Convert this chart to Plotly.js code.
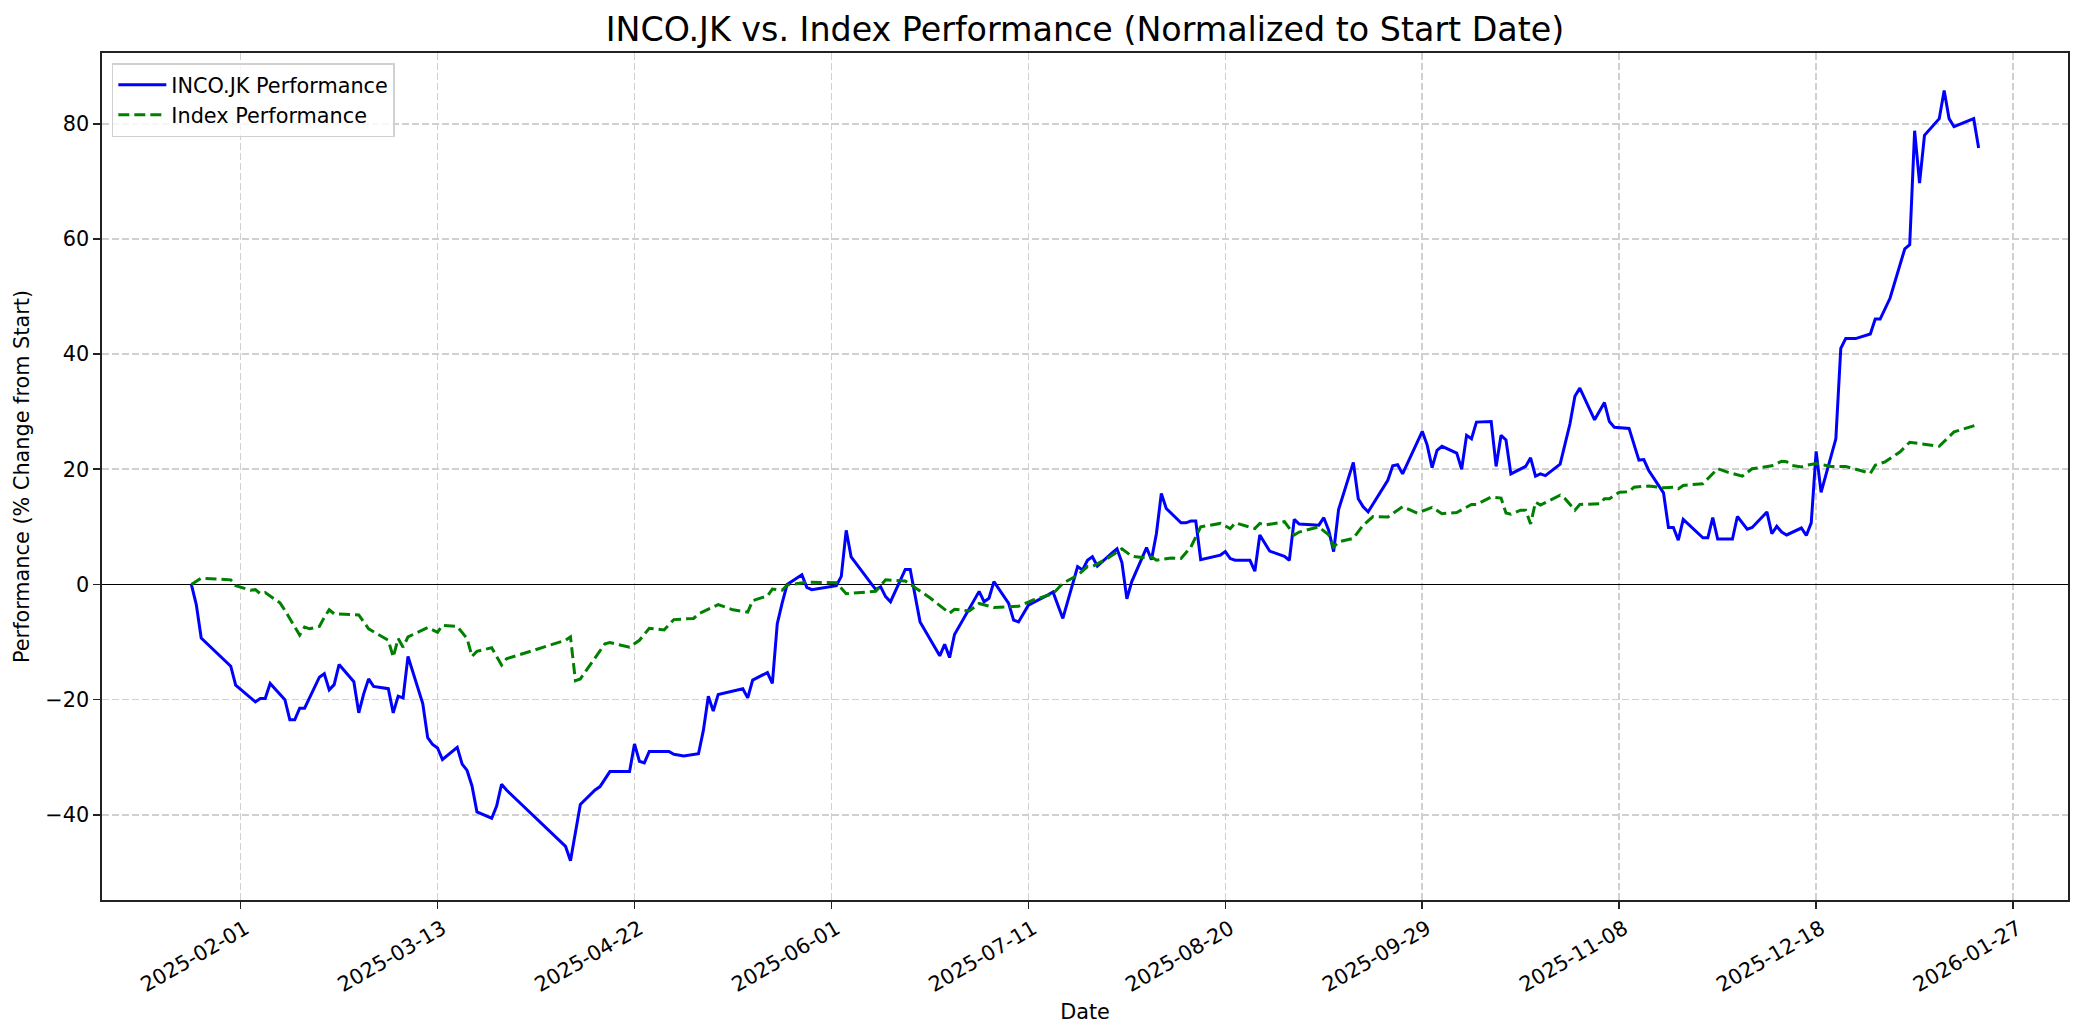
<!DOCTYPE html>
<html>
<head>
<meta charset="utf-8">
<script src="https://cdn.plot.ly/plotly-3.0.1.min.js"></script>
<style>html,body{margin:0;padding:0;background:#fff;}#chart{width:2084px;height:1035px;}</style>
</head>
<body>
<div id="chart"></div>
<script>
// INCO.JK performance (% change from start)
const stockDates = [
'2025-01-22','2025-01-23','2025-01-24','2025-01-30','2025-01-31','2025-02-03','2025-02-04','2025-02-05','2025-02-06','2025-02-07',
'2025-02-10','2025-02-11','2025-02-12','2025-02-13','2025-02-14','2025-02-17','2025-02-18','2025-02-19','2025-02-20','2025-02-21',
'2025-02-24','2025-02-25','2025-02-26','2025-02-27','2025-02-28','2025-03-03','2025-03-04','2025-03-05','2025-03-06','2025-03-07',
'2025-03-10','2025-03-11','2025-03-12','2025-03-13','2025-03-14','2025-03-17','2025-03-18','2025-03-19','2025-03-20','2025-03-21',
'2025-03-24','2025-03-25','2025-03-26','2025-03-27','2025-04-08','2025-04-09','2025-04-11','2025-04-14','2025-04-15','2025-04-17',
'2025-04-21','2025-04-22','2025-04-23','2025-04-24','2025-04-25','2025-04-29','2025-04-30','2025-05-02','2025-05-05','2025-05-06',
'2025-05-07','2025-05-08','2025-05-09','2025-05-14','2025-05-15','2025-05-16','2025-05-19','2025-05-20','2025-05-21','2025-05-22',
'2025-05-23','2025-05-26','2025-05-27','2025-05-28','2025-06-02','2025-06-03','2025-06-04','2025-06-05','2025-06-10','2025-06-11',
'2025-06-12','2025-06-13','2025-06-16','2025-06-17','2025-06-19','2025-06-23','2025-06-24','2025-06-25','2025-06-26','2025-07-01',
'2025-07-02','2025-07-03','2025-07-04','2025-07-07','2025-07-08','2025-07-09','2025-07-11','2025-07-15','2025-07-16','2025-07-18',
'2025-07-21','2025-07-22','2025-07-23','2025-07-24','2025-07-25','2025-07-28','2025-07-29','2025-07-30','2025-07-31','2025-08-01',
'2025-08-04','2025-08-05','2025-08-06','2025-08-07','2025-08-08','2025-08-11','2025-08-12','2025-08-13','2025-08-14','2025-08-15',
'2025-08-19','2025-08-20','2025-08-21','2025-08-22','2025-08-25','2025-08-26','2025-08-27','2025-08-29','2025-09-01','2025-09-02',
'2025-09-03','2025-09-04','2025-09-08','2025-09-09','2025-09-10','2025-09-11','2025-09-12','2025-09-15','2025-09-16','2025-09-17',
'2025-09-18','2025-09-22','2025-09-23','2025-09-24','2025-09-25','2025-09-29','2025-09-30','2025-10-01','2025-10-02','2025-10-03',
'2025-10-06','2025-10-07','2025-10-08','2025-10-09','2025-10-10','2025-10-13','2025-10-14','2025-10-15','2025-10-16','2025-10-17',
'2025-10-20','2025-10-21','2025-10-22','2025-10-23','2025-10-24','2025-10-27','2025-10-29','2025-10-30','2025-10-31','2025-11-03',
'2025-11-05','2025-11-06','2025-11-07','2025-11-10','2025-11-12','2025-11-13','2025-11-14','2025-11-17','2025-11-18','2025-11-19',
'2025-11-20','2025-11-21','2025-11-25','2025-11-26','2025-11-27','2025-11-28','2025-12-01','2025-12-02','2025-12-04','2025-12-05',
'2025-12-08','2025-12-09','2025-12-10','2025-12-11','2025-12-12','2025-12-15','2025-12-16','2025-12-17','2025-12-18','2025-12-19',
'2025-12-22','2025-12-23','2025-12-24','2025-12-26','2025-12-29','2025-12-30','2025-12-31','2026-01-02','2026-01-05','2026-01-06',
'2026-01-07','2026-01-08','2026-01-09','2026-01-12','2026-01-13','2026-01-14','2026-01-15','2026-01-19','2026-01-20'
];
const stockPerf = [
0,-3.5,-9.3,-14.2,-17.5,-19.8,-20.4,-19.8,-19.8,-17.2,
-20,-23.5,-23.5,-21.5,-21.5,-16.1,-15.5,-18.3,-17.4,-13.9,
-16.9,-22.3,-19,-16.4,-17.7,-18.1,-22.3,-19.4,-19.7,-12.5,
-20.7,-26.6,-27.8,-28.4,-30.4,-28.3,-31.2,-32.3,-35,-39.5,
-40.6,-38.5,-34.7,-35.7,-45.5,-48,-38.2,-35.7,-35.1,-32.5,
-32.5,-27.7,-30.7,-31,-29,-29,-29.5,-29.8,-29.4,-25.3,
-19.4,-22,-19.1,-18.1,-19.7,-16.6,-15.3,-17.2,-6.8,-3.2,
0,1.7,-0.5,-0.9,-0.2,1.4,9.4,4.8,-0.9,-0.4,
-2.1,-3,2.6,2.6,-6.5,-12.4,-10.4,-12.7,-8.7,-1.2,
-3,-2.4,0.5,-3.3,-6.2,-6.5,-3.6,-1.8,-1.3,-5.9,
3.1,2.5,4.2,4.8,3.2,5.5,6.2,3.8,-2.5,0.5,
6.4,4.3,8.8,15.8,13.2,10.7,10.7,11,11,4.3,
5.1,5.7,4.5,4.2,4.2,2.3,8.6,5.8,4.9,4.2,
11.3,10.5,10.3,11.6,9.4,5.7,13,21.2,14.9,13.5,
12.6,18.1,20.6,20.8,19.2,26.6,24.2,20.3,23.3,24,
22.8,20,25.9,25.3,28.2,28.3,20.5,25.9,25.1,19.2,
20.5,22,18.8,19.2,18.9,20.9,27.9,32.7,34.1,28.6,
31.6,28.3,27.3,27.1,21.6,21.7,19.8,15.9,9.9,9.9,
7.7,11.3,8.1,8.1,11.6,7.9,7.9,11.8,9.6,9.9,
12.6,8.8,10.1,9.1,8.6,9.8,8.5,10.7,23.1,16,
25.3,41,42.7,42.7,43.5,46.1,46.1,49.7,58.3,59,
78.8,69.7,78,80.9,85.8,80.9,79.5,80.9,75.8
];

// Index performance (% change from start)
const indexDates = [
'2025-01-22','2025-01-24','2025-01-30','2025-01-31','2025-02-03','2025-02-04','2025-02-05','2025-02-06','2025-02-09','2025-02-10',
'2025-02-13','2025-02-14','2025-02-15','2025-02-17','2025-02-18','2025-02-19','2025-02-20','2025-02-22','2025-02-25','2025-02-27',
'2025-03-02','2025-03-03','2025-03-04','2025-03-05','2025-03-06','2025-03-07','2025-03-11','2025-03-13','2025-03-14','2025-03-17',
'2025-03-19','2025-03-20','2025-03-21','2025-03-24','2025-03-26','2025-03-27','2025-04-08','2025-04-09','2025-04-10','2025-04-11',
'2025-04-16','2025-04-17','2025-04-21','2025-04-23','2025-04-25','2025-04-28','2025-04-30','2025-05-04','2025-05-05','2025-05-09',
'2025-05-12','2025-05-15','2025-05-16','2025-05-19','2025-05-20','2025-05-22','2025-05-23','2025-05-27','2025-06-02','2025-06-04',
'2025-06-10','2025-06-12','2025-06-16','2025-06-18','2025-06-21','2025-06-25','2025-06-26','2025-06-29','2025-07-01','2025-07-04',
'2025-07-09','2025-07-12','2025-07-16','2025-07-18','2025-07-21','2025-07-23','2025-07-24','2025-07-27','2025-07-30','2025-08-01',
'2025-08-04','2025-08-05','2025-08-06','2025-08-09','2025-08-11','2025-08-13','2025-08-15','2025-08-19','2025-08-21','2025-08-22',
'2025-08-26','2025-08-27','2025-08-28','2025-09-01','2025-09-03','2025-09-04','2025-09-08','2025-09-10','2025-09-11','2025-09-12',
'2025-09-15','2025-09-17','2025-09-19','2025-09-22','2025-09-25','2025-09-28','2025-10-01','2025-10-03','2025-10-06','2025-10-09',
'2025-10-10','2025-10-13','2025-10-15','2025-10-16','2025-10-17','2025-10-19','2025-10-20','2025-10-21','2025-10-22','2025-10-23',
'2025-10-27','2025-10-28','2025-10-30','2025-10-31','2025-11-04','2025-11-05','2025-11-06','2025-11-08','2025-11-10','2025-11-11',
'2025-11-14','2025-11-17','2025-11-19','2025-11-20','2025-11-21','2025-11-25','2025-11-27','2025-11-28','2025-11-30','2025-12-03',
'2025-12-05','2025-12-09','2025-12-11','2025-12-12','2025-12-13','2025-12-15','2025-12-16','2025-12-18','2025-12-21','2025-12-24',
'2025-12-29','2025-12-30','2026-01-01','2026-01-04','2026-01-06','2026-01-09','2026-01-12','2026-01-15','2026-01-17','2026-01-20'
];
const indexPerf = [
0,1.1,0.8,-0.2,-1,-0.9,-1.6,-1.4,-3.2,-4.5,
-8.8,-7.4,-7.7,-7.3,-5.7,-4.4,-5.1,-5.2,-5.3,-7.7,
-9.1,-9.7,-12.6,-9.4,-10.9,-9.1,-7.5,-8.3,-7.1,-7.3,
-9.4,-12.5,-11.6,-11,-14,-12.9,-9.7,-9.1,-16.7,-16.4,
-10.3,-10.1,-10.9,-9.7,-7.6,-7.9,-6.1,-5.9,-5.1,-3.5,
-4.4,-4.8,-2.8,-2,-0.8,-1,-0.1,0.4,0.3,-1.6,
-1.2,0.8,0.6,-0.5,-2.3,-5,-4.3,-4.6,-3.3,-4,
-3.8,-2.7,-1.6,0.2,1.6,3.1,3.1,4.5,6.2,4.9,
4.6,4.8,4.2,4.6,4.5,6.5,10,10.6,9.7,10.7,
9.7,10.6,10.3,10.9,8.6,9.1,10,8.6,6.5,7.4,
8,10.3,11.8,11.7,13.5,12.4,13.4,12.3,12.5,13.9,
13.9,15.2,15,12.4,12.2,12.9,12.9,10.5,14.3,13.8,
15.5,14.9,12.9,13.9,14,14.9,14.9,16,16.1,16.9,
17.1,16.8,16.9,16.6,17.2,17.5,19.2,20.1,19.5,18.8,
20.1,20.6,21.4,21.3,20.7,20.4,20.7,21,20.5,20.5,
19.3,20.7,21.3,23,24.7,24.3,24,26.5,27,27.8
];

const xTickVals = ['2025-02-01','2025-03-13','2025-04-22','2025-06-01','2025-07-11','2025-08-20','2025-09-29','2025-11-08','2025-12-18','2026-01-27'];
const yTickVals = [-40,-20,0,20,40,60,80];

const font = 'DejaVu Sans, Verdana, sans-serif';
const fs = 20.8;

const traces = [
  {x: stockDates, y: stockPerf, type: 'scatter', mode: 'lines', name: 'INCO.JK Performance',
   line: {color: '#0000ff', width: 3}},
  {x: indexDates, y: indexPerf, type: 'scatter', mode: 'lines', name: 'Index Performance',
   line: {color: '#008000', width: 3, dash: '11px,5px'}}
];

const layout = {
  width: 2084, height: 1035,
  paper_bgcolor: '#ffffff', plot_bgcolor: '#ffffff',
  font: {family: font, size: fs, color: '#000'},
  margin: {l: 102, r: 16, t: 53, b: 135, pad: 0},
  title: {text: 'INCO.JK vs. Index Performance (Normalized to Start Date)', font: {family: font, size: 33.3, color: '#000'},
          x: 0.5, xref: 'paper', xanchor: 'center', y: 0.972, yref: 'container', yanchor: 'middle'},
  showlegend: true,
  legend: {x: 0.005, y: 0.988, xanchor: 'left', yanchor: 'top', bgcolor: 'rgba(255,255,255,0.8)',
           bordercolor: '#d0d0d0', borderwidth: 1.5, itemwidth: 48,
           font: {family: font, size: fs, color: '#000'}},
  xaxis: {
    type: 'date', range: ['2025-01-03 20:24', '2026-02-07 03:36'],
    tickmode: 'array', tickvals: xTickVals, ticktext: xTickVals, tickangle: -30,
    ticklabelshift: 5,
    ticks: 'outside', ticklen: 7, tickwidth: 1.6, tickcolor: '#222',
    showline: true, mirror: true, linecolor: '#222', linewidth: 1.6,
    showgrid: true, gridcolor: '#d0d0d0', gridwidth: 1.6, griddash: '7px,3px',
    zeroline: false, tickfont: {family: font, size: fs, color: '#000'},
    title: {text: 'Date', font: {family: font, size: fs, color: '#000'}, standoff: 8},
    automargin: false
  },
  yaxis: {
    range: [-54.8, 92.3], tickmode: 'array', tickvals: yTickVals,
    ticks: 'outside', ticklen: 7, tickwidth: 1.6, tickcolor: '#222',
    showline: true, mirror: true, linecolor: '#222', linewidth: 1.6,
    showgrid: true, gridcolor: '#d0d0d0', gridwidth: 1.6, griddash: '7px,3px',
    zeroline: true, zerolinecolor: '#000', zerolinewidth: 1.4,
    tickfont: {family: font, size: fs, color: '#000'},
    title: {text: 'Performance (% Change from Start)', font: {family: font, size: fs, color: '#000'}, standoff: 10},
    automargin: false
  }
};

Plotly.newPlot('chart', traces, layout, {displayModeBar: false, staticPlot: true});
</script>
</body>
</html>
